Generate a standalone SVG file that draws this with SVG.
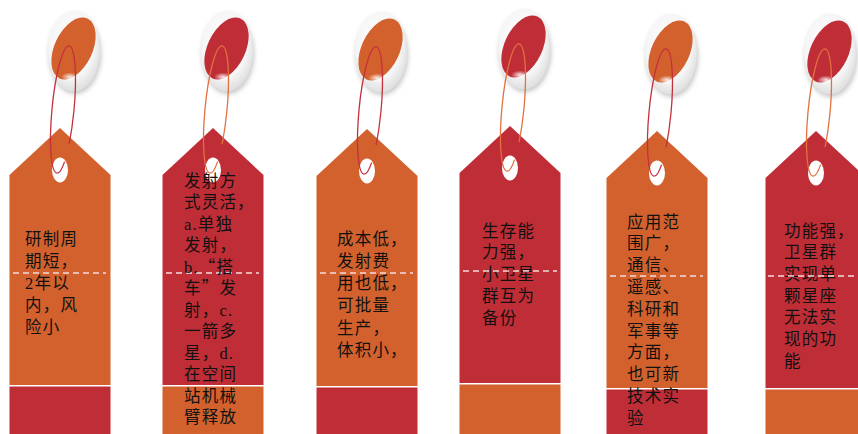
<svg xmlns="http://www.w3.org/2000/svg" width="858" height="434" viewBox="0 0 858 434">
<defs>
  <radialGradient id="ringFill" cx="0.45" cy="0.4" r="0.62">
    <stop offset="0" stop-color="#ffffff"/>
    <stop offset="0.7" stop-color="#f5f5f5"/>
    <stop offset="1" stop-color="#dcdcdc"/>
  </radialGradient>
  <radialGradient id="glint">
    <stop offset="0" stop-color="#ffffff" stop-opacity="0.9"/>
    <stop offset="1" stop-color="#ffffff" stop-opacity="0"/>
  </radialGradient>
  <filter id="soft" x="-40%" y="-40%" width="180%" height="180%">
    <feGaussianBlur stdDeviation="2.5"/>
  </filter>
</defs>
<style>
  .o{fill:#D3612E}
  .r{fill:#BF2D37}
  .hole{fill:#ffffff}
  .ring{fill:url(#ringFill)}
  .shadow{fill:#8a8a8a;opacity:0.5}
  .glint{fill:url(#glint)}
  .sr{fill:none;stroke:#C4303C;stroke-width:1.3}
  .so{fill:none;stroke:#E2713F;stroke-width:1.3}
  .dash{fill:none;stroke:#f3dcdc;stroke-width:1.5;stroke-dasharray:6 4}
  .lbl{font-family:"Liberation Serif","Noto Sans CJK SC",serif;font-size:16.5px;fill:#111;letter-spacing:1.2px}
  .q{font-family:"Noto Sans CJK SC",sans-serif}
</style>

<!-- tag 1 -->
<g id="tag1">
  <g transform="translate(60 128)">
    <ellipse class="shadow" cx="15" cy="-74" rx="26" ry="40" filter="url(#soft)"/>
    <ellipse class="ring" cx="14" cy="-77" rx="26" ry="40.5"/>
    <ellipse class="o" cx="13.5" cy="-79.5" rx="19" ry="33" transform="rotate(25 13.5 -79.5)"/>
    <ellipse class="glint" cx="10" cy="-51" rx="9" ry="4.5"/>
    <path class="o" d="M0,0 L50.5,47 L50.5,257 L-50.5,257 L-50.5,47 Z"/>
    <rect class="r" x="-50.5" y="258.5" width="101" height="60"/>
    <ellipse class="hole" cx="0" cy="42" rx="8" ry="12.5"/>
    <ellipse class="sr" cx="3" cy="-18.5" rx="11" ry="64" transform="rotate(5.4 3 -18.5)" pathLength="100" stroke-dasharray="12.8 6.7 80.5 0"/>
    <line class="dash" x1="-47" y1="145" x2="46" y2="145"/>
  </g>
  <text class="lbl" x="25" y="244.5"><tspan x="25">研制周</tspan><tspan x="25" dy="22">期短，</tspan><tspan x="25" dy="22">2年以</tspan><tspan x="25" dy="22">内，风</tspan><tspan x="25" dy="22">险小</tspan></text>
</g>

<!-- tag 2 -->
<g id="tag2">
  <g transform="translate(213 128)">
    <ellipse class="shadow" cx="15" cy="-74" rx="26" ry="40" filter="url(#soft)"/>
    <ellipse class="ring" cx="14" cy="-77" rx="26" ry="40.5"/>
    <ellipse class="r" cx="13.5" cy="-79.5" rx="19" ry="33" transform="rotate(25 13.5 -79.5)"/>
    <ellipse class="glint" cx="10" cy="-51" rx="9" ry="4.5"/>
    <path class="r" d="M0,0 L50.5,47 L50.5,257 L-50.5,257 L-50.5,47 Z"/>
    <rect class="o" x="-50.5" y="258.5" width="101" height="60"/>
    <ellipse class="hole" cx="0" cy="42" rx="8" ry="12.5"/>
    <ellipse class="so" cx="3" cy="-18.5" rx="11" ry="64" transform="rotate(5.4 3 -18.5)" pathLength="100" stroke-dasharray="12.8 6.7 80.5 0"/>
    <line class="dash" x1="-47" y1="145" x2="46" y2="145"/>
  </g>
  <text class="lbl" x="184" y="186.5"><tspan x="184">发射方</tspan><tspan x="184" dy="21.5">式灵活，</tspan><tspan x="184" dy="21.5">a.单独</tspan><tspan x="184" dy="21.5">发射，</tspan><tspan x="184" dy="21.5">b.<tspan class="q">“</tspan>搭</tspan><tspan x="184" dy="21.5">车<tspan class="q">”</tspan>发</tspan><tspan x="184" dy="21.5">射，c.</tspan><tspan x="184" dy="21.5">一箭多</tspan><tspan x="184" dy="21.5">星，d.</tspan><tspan x="184" dy="21.5">在空间</tspan><tspan x="184" dy="21.5">站机械</tspan><tspan x="184" dy="21.5">臂释放</tspan></text>
</g>

<!-- tag 3 -->
<g id="tag3">
  <g transform="translate(367 129)">
    <ellipse class="shadow" cx="15" cy="-74" rx="26" ry="40" filter="url(#soft)"/>
    <ellipse class="ring" cx="14" cy="-77" rx="26" ry="40.5"/>
    <ellipse class="o" cx="13.5" cy="-79.5" rx="19" ry="33" transform="rotate(25 13.5 -79.5)"/>
    <ellipse class="glint" cx="10" cy="-51" rx="9" ry="4.5"/>
    <path class="o" d="M0,0 L50.5,47 L50.5,257 L-50.5,257 L-50.5,47 Z"/>
    <rect class="r" x="-50.5" y="258.5" width="101" height="60"/>
    <ellipse class="hole" cx="0" cy="42" rx="8" ry="12.5"/>
    <ellipse class="sr" cx="3" cy="-18.5" rx="11" ry="64" transform="rotate(5.4 3 -18.5)" pathLength="100" stroke-dasharray="12.8 6.7 80.5 0"/>
    <line class="dash" x1="-47" y1="144" x2="46" y2="144"/>
  </g>
  <text class="lbl" x="337" y="244.5"><tspan x="337">成本低，</tspan><tspan x="337" dy="22.3">发射费</tspan><tspan x="337" dy="22.3">用也低，</tspan><tspan x="337" dy="22.3">可批量</tspan><tspan x="337" dy="22.3">生产，</tspan><tspan x="337" dy="22.3">体积小，</tspan></text>
</g>

<!-- tag 4 -->
<g id="tag4">
  <g transform="translate(510 126)">
    <ellipse class="shadow" cx="15" cy="-74" rx="26" ry="40" filter="url(#soft)"/>
    <ellipse class="ring" cx="14" cy="-77" rx="26" ry="40.5"/>
    <ellipse class="r" cx="13.5" cy="-79.5" rx="19" ry="33" transform="rotate(25 13.5 -79.5)"/>
    <ellipse class="glint" cx="10" cy="-51" rx="9" ry="4.5"/>
    <path class="r" d="M0,0 L50.5,47 L50.5,257 L-50.5,257 L-50.5,47 Z"/>
    <rect class="o" x="-50.5" y="258.5" width="101" height="60"/>
    <ellipse class="hole" cx="0" cy="42" rx="8" ry="12.5"/>
    <ellipse class="so" cx="3" cy="-18.5" rx="11" ry="64" transform="rotate(5.4 3 -18.5)" pathLength="100" stroke-dasharray="12.8 6.7 80.5 0"/>
  </g>
  <text class="lbl" x="482" y="236.5"><tspan x="482">生存能</tspan><tspan x="482" dy="21.8">力强，</tspan><tspan x="482" dy="21.8">小卫星</tspan><tspan x="482" dy="21.8">群互为</tspan><tspan x="482" dy="21.8">备份</tspan></text>
  <line class="dash" x1="463" y1="271" x2="557" y2="271"/>
</g>

<!-- tag 5 -->
<g id="tag5">
  <g transform="translate(657 131)">
    <ellipse class="shadow" cx="15" cy="-74" rx="26" ry="40" filter="url(#soft)"/>
    <ellipse class="ring" cx="14" cy="-77" rx="26" ry="40.5"/>
    <ellipse class="o" cx="13.5" cy="-79.5" rx="19" ry="33" transform="rotate(25 13.5 -79.5)"/>
    <ellipse class="glint" cx="10" cy="-51" rx="9" ry="4.5"/>
    <path class="o" d="M0,0 L50.5,47 L50.5,257 L-50.5,257 L-50.5,47 Z"/>
    <rect class="r" x="-50.5" y="258.5" width="101" height="60"/>
    <ellipse class="hole" cx="0" cy="42" rx="8" ry="12.5"/>
    <ellipse class="sr" cx="3" cy="-18.5" rx="11" ry="64" transform="rotate(5.4 3 -18.5)" pathLength="100" stroke-dasharray="12.8 6.7 80.5 0"/>
    <line class="dash" x1="-47" y1="145" x2="46" y2="145"/>
  </g>
  <text class="lbl" x="627" y="227.5"><tspan x="627">应用范</tspan><tspan x="627" dy="21.8">围广，</tspan><tspan x="627" dy="21.8">通信、</tspan><tspan x="627" dy="21.8">遥感、</tspan><tspan x="627" dy="21.8">科研和</tspan><tspan x="627" dy="21.8">军事等</tspan><tspan x="627" dy="21.8">方面，</tspan><tspan x="627" dy="21.8">也可新</tspan><tspan x="627" dy="21.8">技术实</tspan><tspan x="627" dy="21.8">验</tspan></text>
</g>

<!-- tag 6 -->
<g id="tag6">
  <g transform="translate(816 131)">
    <ellipse class="shadow" cx="15" cy="-74" rx="26" ry="40" filter="url(#soft)"/>
    <ellipse class="ring" cx="14" cy="-77" rx="26" ry="40.5"/>
    <ellipse class="r" cx="13.5" cy="-79.5" rx="19" ry="33" transform="rotate(25 13.5 -79.5)"/>
    <ellipse class="glint" cx="10" cy="-51" rx="9" ry="4.5"/>
    <path class="r" d="M0,0 L50.5,47 L50.5,257 L-50.5,257 L-50.5,47 Z"/>
    <rect class="o" x="-50.5" y="258.5" width="101" height="60"/>
    <ellipse class="hole" cx="0" cy="42" rx="8" ry="12.5"/>
    <ellipse class="so" cx="3" cy="-18.5" rx="11" ry="64" transform="rotate(5.4 3 -18.5)" pathLength="100" stroke-dasharray="12.8 6.7 80.5 0"/>
  </g>
  <text class="lbl" x="784" y="236.5"><tspan x="784">功能强，</tspan><tspan x="784" dy="21.7">卫星群</tspan><tspan x="784" dy="21.7">实现单</tspan><tspan x="784" dy="21.7">颗星座</tspan><tspan x="784" dy="21.7">无法实</tspan><tspan x="784" dy="21.7">现的功</tspan><tspan x="784" dy="21.7">能</tspan></text>
  <line class="dash" x1="768" y1="276" x2="858" y2="276"/>
</g>
</svg>
